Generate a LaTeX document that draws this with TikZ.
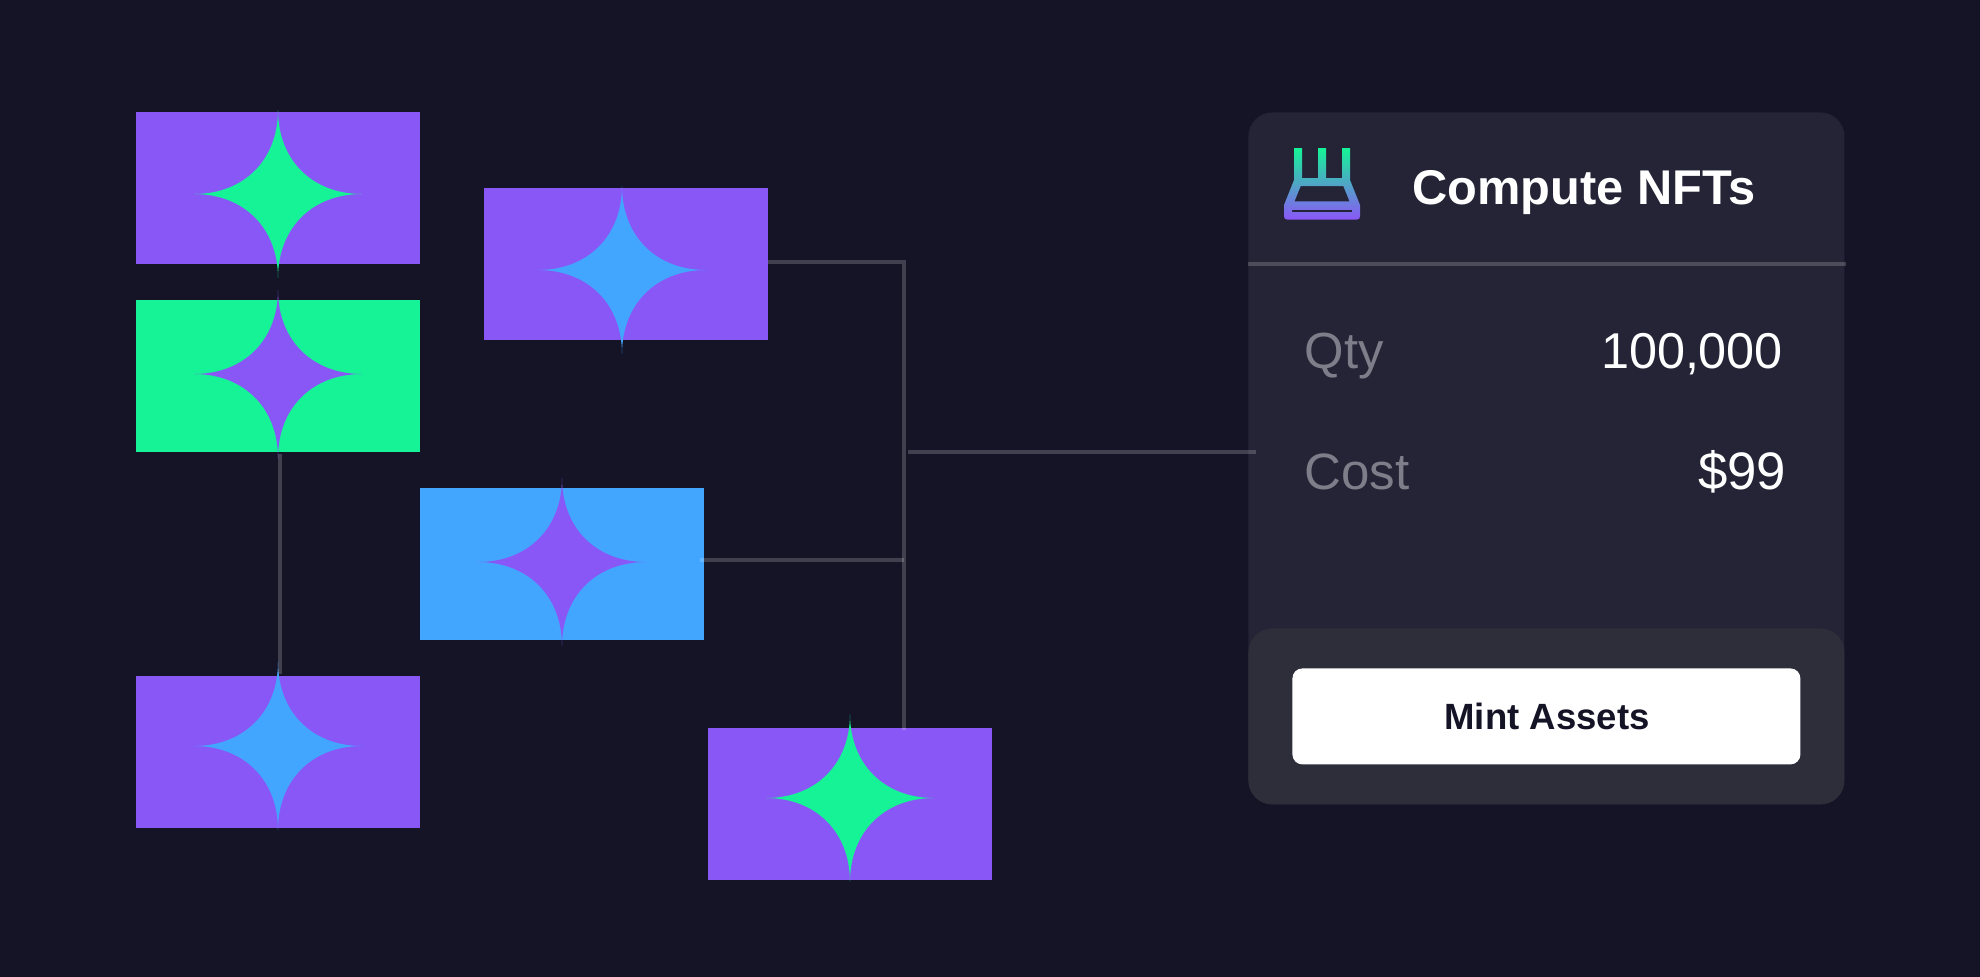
\documentclass[tikz,border=0pt]{standalone}
\usepackage{fontspec}
\usepackage{graphicx}
\setmainfont{Liberation Sans}
\newfontfamily\lightf{Liberation Sans}
\newfontfamily\semif[UprightFont=* Bold]{Liberation Sans}
\definecolor{bgc}{HTML}{141426}
\definecolor{panelc}{HTML}{242436}
\definecolor{lowerc}{HTML}{2E2E3B}
\definecolor{purp}{HTML}{8A57F7}
\definecolor{grn}{HTML}{15F396}
\definecolor{blu}{HTML}{42A6FF}
\definecolor{greytxt}{HTML}{7E7E8A}
\newcommand\fitw[2]{\resizebox{#1pt}{!}{#2}}
\tikzset{
  tile/.style={fill=#1,draw=none,inner sep=0,outer sep=0,minimum width=142pt,minimum height=76pt,anchor=north west},
  wire/.style={draw=white,opacity=0.19,line width=2pt},
  sparkle/.pic={\fill[pic actions] (0,-84) .. controls (0,-34) and (34,0) .. (84,0) .. controls (34,0) and (0,34) .. (0,84) .. controls (0,34) and (-34,0) .. (-84,0) .. controls (-34,0) and (0,-34) .. cycle;},
  label/.style={inner sep=0,outer sep=0},
}
\begin{document}
\begin{tikzpicture}[x=0.5pt,y=-0.5pt]
\useasboundingbox (0,0) rectangle (1980,976);
\fill[bgc] (-10,-10) rectangle (1990,986);
% panel
\node[fill=panelc,inner sep=0,minimum width=298pt,minimum height=346pt,rounded corners=12pt,anchor=north west] (panel) at (1248,112) {};
\node[fill=lowerc,inner sep=0,minimum width=298pt,minimum height=88pt,rounded corners=12pt,anchor=north west] (lower) at (1248,628) {};
\node[fill=white,inner sep=0,minimum width=254pt,minimum height=48pt,rounded corners=5pt,anchor=north west] (btn) at (1292,668) {};
\coordinate (sepa) at (1248,264);
\coordinate (sepb) at (1846,264);
\draw[wire] (sepa) -- (sepb);
% icon
\path[even odd rule,top color=grn,bottom color=purp,draw=none]
  (1294,148) -- (1302,148) -- (1302,178) -- (1318,178) -- (1318,148) -- (1326,148) -- (1326,178) -- (1342,178) -- (1342,148) -- (1350,148) -- (1350,180) -- (1360,205) -- (1360,216) .. controls (1360,218.5) and (1359,219.5) .. (1357,219.5) -- (1287,219.5) .. controls (1285,219.5) and (1284,218.5) .. (1284,216) -- (1284,205) -- (1294,180) -- cycle
  (1300.7,186) -- (1343.3,186) -- (1349.5,201.3) -- (1294.5,201.3) -- cycle
  (1292,209.8) -- (1352,209.8) -- (1352,212) -- (1292,212) -- cycle;
% texts
\node[label,anchor=base west,text=white] (title) at (1412.5,204.5) {\fitw{171.5}{\semif\fontsize{24}{28}\selectfont Compute NFTs}};
\node[label,anchor=base west,text=greytxt] (qty) at (1304.5,368.5) {\fitw{39.5}{\lightf\fontsize{23}{28}\selectfont Qty}};
\node[label,anchor=base west,text=greytxt] (cost) at (1304.5,489.5) {\fitw{52.5}{\lightf\fontsize{23}{28}\selectfont Cost}};
\node[label,anchor=base east,text=white] (qtyv) at (1783,368.5) {\fitw{91}{\lightf\fontsize{23}{28}\selectfont 100,000}};
\node[label,anchor=base east,text=white] (costv) at (1786,489.5) {\fitw{44}{\lightf\fontsize{23}{28}\selectfont \$99}};
\node[label,anchor=base,text=bgc] (mint) at (1547,729) {\fitw{102.5}{\semif\fontsize{18}{22}\selectfont Mint Assets}};
% tiles
\node[tile=purp] (r1) at (136,112) {};
\node[tile=grn] (r2) at (136,300) {};
\node[tile=purp] (r3) at (484,188) {};
\node[tile=blu] (r4) at (420,488) {};
\node[tile=purp] (r5) at (136,676) {};
\node[tile=purp] (r6) at (708,728) {};
\path[fill=grn] (278,194) pic {sparkle};
\path[fill=purp] (278,374) pic {sparkle};
\path[fill=blu] (622,270) pic {sparkle};
\path[fill=purp] (562,562) pic {sparkle};
\path[fill=blu] (278,746) pic {sparkle};
\path[fill=grn] (850,798) pic {sparkle};
% connectors
\coordinate (jt) at (904,262);
\coordinate (jb) at (904,730);
\coordinate (a2) at (700,560);
\coordinate (b2) at (904,560);
\coordinate (a3) at (908,452);
\coordinate (b3) at (1256,452);
\coordinate (a4) at (280,454);
\coordinate (b4) at (280,674);
\draw[wire] (r3.east |- jt) -- (jt) -- (jb);
\draw[wire] (a2) -- (b2);
\draw[wire] (a3) -- (b3);
\draw[wire] (a4) -- (b4);
\end{tikzpicture}
\end{document}
